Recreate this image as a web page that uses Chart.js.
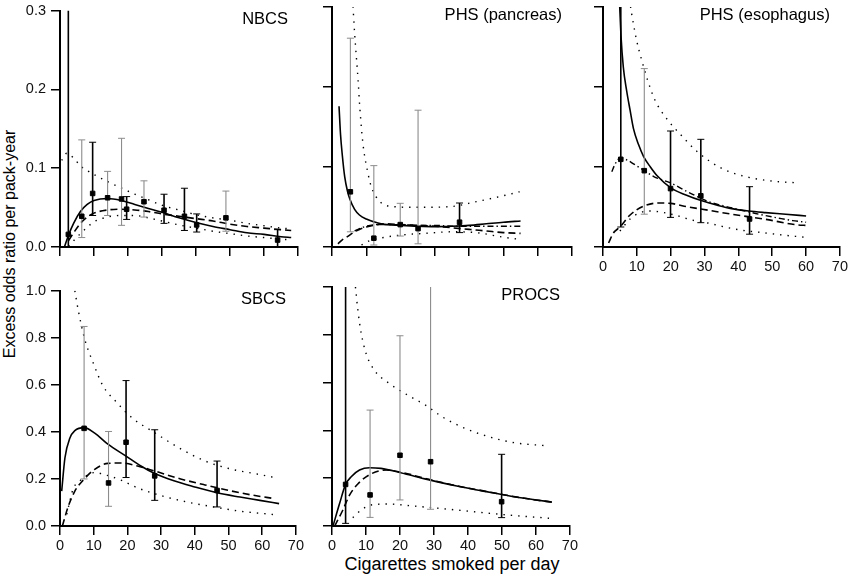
<!DOCTYPE html>
<html>
<head>
<meta charset="utf-8">
<script src="https://cdn.jsdelivr.net/npm/chart.js@4.4.1/dist/chart.umd.min.js"></script>
<style>
  body { margin: 0; background: #fff; }
  #page { position: relative; width: 850px; height: 580px; overflow: hidden;
          font-family: "Liberation Sans", Arial, sans-serif; color: #000; }
  #page canvas { position: absolute; }
  #ytitle { position: absolute; left: 10px; top: 244px; white-space: nowrap;
            font-size: 16px; line-height: 16px;
            transform: translate(-50%, -50%) rotate(-90deg); }
  #xtitle { position: absolute; left: 452px; top: 564px; white-space: nowrap;
            font-size: 18px; line-height: 18px; transform: translate(-50%, -50%); }
</style>
</head>
<body>
<div id="page">
  <div id="ytitle">Excess odds ratio per pack-year</div>
  <div id="xtitle">Cigarettes smoked per day</div>
</div>
<script>
'use strict';

// shared ticks
const xTickValues = [0, 10, 20, 30, 40, 50, 60, 70];
const yTicksTop = [0, 0.1, 0.2, 0.3];
const yTicksBottom = [0, 0.2, 0.4, 0.6, 0.8, 1.0];

// NBCS
const nbcsX = [2.45, 6.4, 9.6, 14.0, 18.1, 19.6, 24.7, 30.6, 36.6, 40.2, 48.8, 64.0];
const nbcsY = [0.016, 0.039, 0.068, 0.0625, 0.061, 0.048, 0.0575, 0.0467, 0.039, 0.028, 0.037, 0.0088];
const nbcsLo = [0, 0.012, 0.04, 0.04, 0.0275, 0.035, 0.038, 0.03, 0.021, 0.019, 0.02, 0];
const nbcsHi = [0.5, 0.136, 0.133, 0.096, 0.138, 0.064, 0.084, 0.067, 0.0746, 0.042, 0.071, 0.022];
const nbcsTone = ['k', 'g', 'k', 'g', 'g', 'k', 'g', 'k', 'k', 'k', 'g', 'k'];
const nbcsSolid = [[1.3, 0], [2.5, 0.015], [4, 0.03], [6, 0.045], [8, 0.054], [10, 0.059], [14, 0.0615],
  [18, 0.059], [22, 0.054], [26, 0.049], [30, 0.044], [35, 0.037], [40, 0.031], [45, 0.026],
  [50, 0.022], [55, 0.018], [60, 0.016], [65, 0.013], [68, 0.012]];
const nbcsDashed = [[2.5, 0.008], [4, 0.018], [6, 0.03], [8, 0.038], [10, 0.043], [14, 0.047], [18, 0.048],
  [22, 0.047], [26, 0.045], [30, 0.042], [35, 0.039], [40, 0.036], [45, 0.033], [50, 0.029],
  [55, 0.026], [60, 0.024], [65, 0.022], [68, 0.021]];
const nbcsDotHi = [[0.5, 0.11], [2, 0.119], [4, 0.113], [6, 0.103], [8, 0.097], [10, 0.092], [14, 0.083],
  [18, 0.075], [22, 0.067], [26, 0.06], [30, 0.053], [35, 0.047], [40, 0.041], [45, 0.037],
  [50, 0.034], [55, 0.03], [60, 0.027], [65, 0.024], [68, 0.023]];
const nbcsDotLo = [[2.5, 0.001], [4, 0.008], [6, 0.017], [8, 0.025], [10, 0.032], [14, 0.038], [18, 0.04],
  [22, 0.04], [26, 0.037], [30, 0.033], [35, 0.028], [40, 0.024], [45, 0.02], [50, 0.017],
  [55, 0.014], [60, 0.012], [65, 0.01], [68, 0.009]];

// PHS (pancreas)
const pancX = [5.36, 12.2, 19.9, 25.1, 37.2];
const pancY = [0.069, 0.011, 0.028, 0.023, 0.031];
const pancLo = [0.019, 0.0025, 0.0137, 0.004, 0.018];
const pancHi = [0.261, 0.1017, 0.0546, 0.171, 0.055];
const pancTone = ['g', 'g', 'g', 'g', 'k'];
const pancSolid = [[2.05, 0.176], [2.5, 0.14], [3, 0.115], [3.7, 0.088], [4.5, 0.07], [5.2, 0.06], [6.6, 0.047],
  [8, 0.04], [10, 0.035], [13.4, 0.03], [16, 0.028], [20, 0.027], [25, 0.026], [30, 0.0255],
  [35, 0.026], [40, 0.027], [45, 0.029], [50, 0.031], [55, 0.0325]];
const pancDashed = [[1.75, 0.004], [3, 0.009], [4.5, 0.013], [6.6, 0.019], [8, 0.022], [10, 0.025],
  [13.4, 0.028], [16, 0.029], [20, 0.028], [25, 0.027], [30, 0.026], [35, 0.024], [40, 0.022],
  [45, 0.02], [50, 0.018], [55, 0.017]];
const pancDashDot = [[6.6, 0.02], [8, 0.023], [10, 0.026], [13.4, 0.028], [16, 0.028], [20, 0.028],
  [25, 0.027], [30, 0.027], [35, 0.026], [40, 0.026], [45, 0.026], [50, 0.026], [55, 0.026]];
const pancDotHi = [[6.0, 0.31], [6.6, 0.267], [7.6, 0.209], [8.1, 0.175], [9.0, 0.13], [10.5, 0.092],
  [11.5, 0.075], [13.9, 0.057], [16.8, 0.051], [24.6, 0.0496], [34.3, 0.0504], [42.1, 0.0567],
  [48.9, 0.063], [54.7, 0.069]];
const pancDotLo = [[8.6, 0.0025], [11, 0.008], [13.9, 0.011], [20.2, 0.015], [27, 0.017], [34.8, 0.019],
  [42, 0.018], [50.3, 0.012], [54.7, 0.0096]];

// PHS (esophagus)
const esoX = [5.26, 12.2, 19.95, 28.9, 43.3];
const esoY = [0.1096, 0.0954, 0.073, 0.064, 0.035];
const esoLo = [0.025, 0.041, 0.037, 0.0304, 0.016];
const esoHi = [0.5, 0.223, 0.145, 0.1346, 0.0754];
const esoTone = ['k', 'g', 'k', 'k', 'k'];
const esoSolid = [[4.85, 0.31], [5.3, 0.265], [6, 0.225], [7, 0.195], [8, 0.171], [9, 0.148], [10.5, 0.128],
  [12, 0.113], [14, 0.1], [16, 0.089], [20, 0.074], [24.5, 0.065], [29, 0.058], [34, 0.052],
  [38, 0.048], [43, 0.045], [48, 0.043], [54, 0.041], [60, 0.0388]];
const esoDashDot = [[2.6, 0.094], [3.5, 0.103], [5, 0.111], [7, 0.109], [9, 0.104], [12, 0.096], [15, 0.088],
  [20, 0.08], [25, 0.069], [31, 0.057], [36, 0.051], [41, 0.046], [46, 0.041], [52, 0.036],
  [56, 0.033], [60, 0.031]];
const esoDashed = [[1.65, 0.005], [3, 0.017], [5, 0.025], [8, 0.04], [12, 0.051], [16.5, 0.055], [20, 0.0545],
  [24, 0.051], [31, 0.046], [38, 0.041], [48, 0.0346], [57.6, 0.0275], [60, 0.027]];
const esoDotHi = [[7.8, 0.31], [8.45, 0.292], [9.9, 0.259], [11.4, 0.234], [13.3, 0.207], [15.3, 0.184],
  [18.7, 0.161], [22.6, 0.142], [27.9, 0.119], [35.2, 0.098], [42.1, 0.088], [49.8, 0.0825],
  [58.1, 0.08]];
const esoDotLo = [[5, 0.02], [8, 0.035], [11, 0.043], [14, 0.045], [18, 0.043], [22, 0.039], [26, 0.034],
  [31, 0.03], [36, 0.025], [41, 0.021], [47, 0.018], [53, 0.015], [60, 0.012]];

// SBCS
const sbcsX = [7.15, 14.4, 19.6, 28.1, 46.6];
const sbcsY = [0.415, 0.183, 0.356, 0.213, 0.151];
const sbcsLo = [0.2, 0.0837, 0.206, 0.109, 0.081];
const sbcsHi = [0.848, 0.4017, 0.618, 0.409, 0.276];
const sbcsTone = ['g', 'g', 'k', 'k', 'k'];
const sbcsSolid = [[0.5, 0.148], [1.47, 0.29], [2.94, 0.374], [4.4, 0.405], [7.15, 0.418], [10.3, 0.395],
  [14.2, 0.348], [19.6, 0.297], [24, 0.255], [28.1, 0.223], [33.8, 0.192], [39.7, 0.167],
  [46.6, 0.141], [53.4, 0.123], [59.3, 0.109], [65, 0.095]];
const sbcsDashed = [[0.7, 0], [2.4, 0.081], [4.4, 0.148], [6.9, 0.195], [10.3, 0.241], [14.2, 0.266],
  [18.1, 0.268], [23, 0.255], [28, 0.234], [35.8, 0.2], [42.6, 0.176], [49.5, 0.153],
  [56.4, 0.133], [63.7, 0.116]];
const sbcsDotHi = [[4.4, 1.0], [5.4, 0.918], [7.35, 0.793], [9.8, 0.695], [12.7, 0.597], [16.7, 0.527],
  [21.6, 0.457], [27.5, 0.402], [35.3, 0.332], [43.1, 0.276], [51, 0.241], [58.8, 0.22], [63.7, 0.206]];
const sbcsDotLo = [[2, 0.05], [3, 0.11], [3.9, 0.158], [5.9, 0.192], [10.3, 0.227], [14, 0.215], [18.1, 0.195],
  [23, 0.162], [30.9, 0.1255], [37.7, 0.102], [45.6, 0.081], [53.4, 0.063], [63.2, 0.049]];

// PROCS
const procsX = [4.0, 11.2, 20.0, 29.0, 49.9];
const procsY = [0.174, 0.13, 0.296, 0.269, 0.1017];
const procsLo = [0.011, 0.036, 0.109, 0.07, 0.035];
const procsHi = [1.5, 0.485, 0.796, 1.5, 0.3];
const procsTone = ['k', 'g', 'g', 'g', 'k'];
const procsSolid = [[0.3, 0], [2.25, 0.095], [4, 0.174], [5.65, 0.206], [8.1, 0.234], [11, 0.244], [14.4, 0.241],
  [20.2, 0.223], [28, 0.195], [36.7, 0.167], [44.5, 0.146], [52.3, 0.1255], [60.1, 0.109], [64.7, 0.1]];
const procsDashed = [[0.8, 0], [3.2, 0.067], [5.2, 0.13], [7.6, 0.176], [11.5, 0.218], [16, 0.234], [20, 0.226],
  [28, 0.197], [36.7, 0.168], [44.5, 0.147], [52.3, 0.126], [60, 0.109], [64.7, 0.1]];
const procsDotHi = [[6.9, 1.0], [7.6, 0.904], [8.6, 0.806], [10, 0.723], [12.4, 0.653], [16.8, 0.597],
  [22.2, 0.548], [27.5, 0.506], [32.4, 0.457], [39.2, 0.408], [46, 0.374], [53.8, 0.348], [63, 0.336]];
const procsDotLo = [[6.1, 0.035], [8.6, 0.067], [11.5, 0.088], [16.3, 0.092], [23.6, 0.084], [31.4, 0.074],
  [38.7, 0.064], [46.5, 0.053], [54.2, 0.043], [64.4, 0.032]];

// layout of each plot box: [left, top, right, bottom] in page pixels
const Y_W = 50, X_H = 32, PAD_T = 10, PAD_R = 8;
const FONT = '"Liberation Sans", Arial, sans-serif';

const panels = [
  { title: 'NBCS', area: [60, 7, 298, 247], yMax: 0.3, yTicks: yTicksTop, showX: false, showY: true,
    x: nbcsX, y: nbcsY, lo: nbcsLo, hi: nbcsHi, tone: nbcsTone,
    solid: nbcsSolid, dashed: nbcsDashed, dashDot: null, dotHi: nbcsDotHi, dotLo: nbcsDotLo },
  { title: 'PHS (pancreas)', area: [332, 7, 572, 247], yMax: 0.3, yTicks: yTicksTop, showX: false, showY: false,
    x: pancX, y: pancY, lo: pancLo, hi: pancHi, tone: pancTone,
    solid: pancSolid, dashed: pancDashed, dashDot: pancDashDot, dotHi: pancDotHi, dotLo: pancDotLo },
  { title: 'PHS (esophagus)', area: [603, 7, 842, 247], yMax: 0.3, yTicks: yTicksTop, showX: true, showY: false,
    x: esoX, y: esoY, lo: esoLo, hi: esoHi, tone: esoTone,
    solid: esoSolid, dashed: esoDashed, dashDot: esoDashDot, dotHi: esoDotHi, dotLo: esoDotLo },
  { title: 'SBCS', area: [60, 287, 298, 526], yMax: 1.0, yTicks: yTicksBottom, showX: true, showY: true,
    x: sbcsX, y: sbcsY, lo: sbcsLo, hi: sbcsHi, tone: sbcsTone,
    solid: sbcsSolid, dashed: sbcsDashed, dashDot: null, dotHi: sbcsDotHi, dotLo: sbcsDotLo },
  { title: 'PROCS', area: [332, 287, 572, 526], yMax: 1.0, yTicks: yTicksBottom, showX: true, showY: false,
    x: procsX, y: procsY, lo: procsLo, hi: procsHi, tone: procsTone,
    solid: procsSolid, dashed: procsDashed, dashDot: null, dotHi: procsDotHi, dotLo: procsDotLo }
];

function toXY(pairs) {
    return pairs.map(function (p) { return { x: p[0], y: p[1] }; });
}

function curve(pairs, dash, width) {
    return {
        data: toXY(pairs),
        borderColor: '#000',
        borderWidth: width,
        borderDash: dash,
        borderCapStyle: 'butt',
        pointRadius: 0,
        fill: false,
        cubicInterpolationMode: 'monotone',
        order: 3
    };
}

function errorBars(p) {
    var data = [];
    var caps = [];
    p.x.forEach(function (x, i) {
        var c = p.tone[i] === 'k' ? '#000' : '#8c8c8c';
        data.push({ x: x, y: p.lo[i] }, { x: x, y: p.hi[i] }, { x: x, y: null });
        caps.push(c, c, c);
    });
    var toneOf = function (ctx) { return p.tone[Math.floor(ctx.p0DataIndex / 3)]; };
    return {
        data: data,
        spanGaps: false,
        borderColor: '#000',
        borderWidth: 1,
        segment: {
            borderColor: function (ctx) { return toneOf(ctx) === 'k' ? '#000' : '#8c8c8c'; },
            borderWidth: function (ctx) { return toneOf(ctx) === 'k' ? 1.6 : 1.1; }
        },
        pointStyle: 'line',
        pointRadius: 3.5,
        pointBorderWidth: 1,
        pointBorderColor: caps,
        pointHoverRadius: 3.5,
        order: 2
    };
}

function markers(p) {
    return {
        data: p.x.map(function (x, i) { return { x: x, y: p.y[i] }; }),
        showLine: false,
        pointStyle: 'rect',
        pointRadius: 3.2,
        pointBorderWidth: 1,
        pointBackgroundColor: '#000',
        pointBorderColor: '#000',
        order: 0
    };
}

var panelTitle = {
    id: 'panelTitle',
    afterDraw: function (chart, args, opts) {
        var ctx = chart.ctx;
        var area = chart.chartArea;
        ctx.save();
        ctx.font = '16.5px ' + FONT;
        ctx.fillStyle = '#000';
        ctx.textAlign = 'right';
        ctx.textBaseline = 'alphabetic';
        ctx.fillText(opts.text, area.right - 10, area.top + 13);
        ctx.restore();
    }
};

function DrawPanel(p) {
    var page = document.getElementById('page');
    var cv = document.createElement('canvas');
    var w = (p.area[2] - p.area[0]) + Y_W + PAD_R;
    var h = (p.area[3] - p.area[1]) + PAD_T + X_H;
    cv.width = w;
    cv.height = h;
    cv.style.width = w + 'px';
    cv.style.height = h + 'px';
    cv.style.left = (p.area[0] - Y_W) + 'px';
    cv.style.top = (p.area[1] - PAD_T) + 'px';
    page.appendChild(cv);

    var datasets = [
        markers(p),
        errorBars(p),
        curve(p.solid, [], 1.6),
        curve(p.dashed, [7, 4], 1.6),
        curve(p.dotHi, [1.4, 6], 1.4),
        curve(p.dotLo, [1.4, 6], 1.4)
    ];
    if (p.dashDot) {
        datasets.push(curve(p.dashDot, [6, 3, 1.4, 3], 1.4));
    }

    var tickFont = { family: FONT, size: 14.5 };
    new Chart(cv, {
        type: 'line',
        data: { datasets: datasets },
        options: {
            responsive: false,
            animation: false,
            devicePixelRatio: 1,
            layout: { padding: { top: PAD_T, right: PAD_R, left: 0, bottom: 0 } },
            plugins: {
                legend: { display: false },
                tooltip: { enabled: false },
                panelTitle: { text: p.title }
            },
            scales: {
                x: {
                    type: 'linear',
                    min: 0,
                    max: 70,
                    afterBuildTicks: function (s) { s.ticks = xTickValues.map(function (v) { return { value: v }; }); },
                    afterFit: function (s) { s.height = X_H; },
                    ticks: { display: p.showX, font: tickFont, color: '#111', padding: 2, maxRotation: 0, autoSkip: false },
                    grid: { drawOnChartArea: false, drawTicks: true, tickLength: 9, color: '#000', lineWidth: 1.5 },
                    border: { display: true, color: '#000', width: 2 }
                },
                y: {
                    type: 'linear',
                    min: 0,
                    max: p.yMax,
                    afterBuildTicks: function (s) { s.ticks = p.yTicks.map(function (v) { return { value: v }; }); },
                    afterFit: function (s) { s.width = Y_W; },
                    ticks: {
                        display: p.showY, font: tickFont, color: '#111', padding: 5,
                        callback: function (v) { return Number(v).toFixed(1); }
                    },
                    grid: { drawOnChartArea: false, drawTicks: true, tickLength: 9, color: '#000', lineWidth: 1.5 },
                    border: { display: true, color: '#000', width: 2 }
                }
            }
        },
        plugins: [panelTitle]
    });
}

panels.forEach(DrawPanel);
</script>
</body>
</html>
